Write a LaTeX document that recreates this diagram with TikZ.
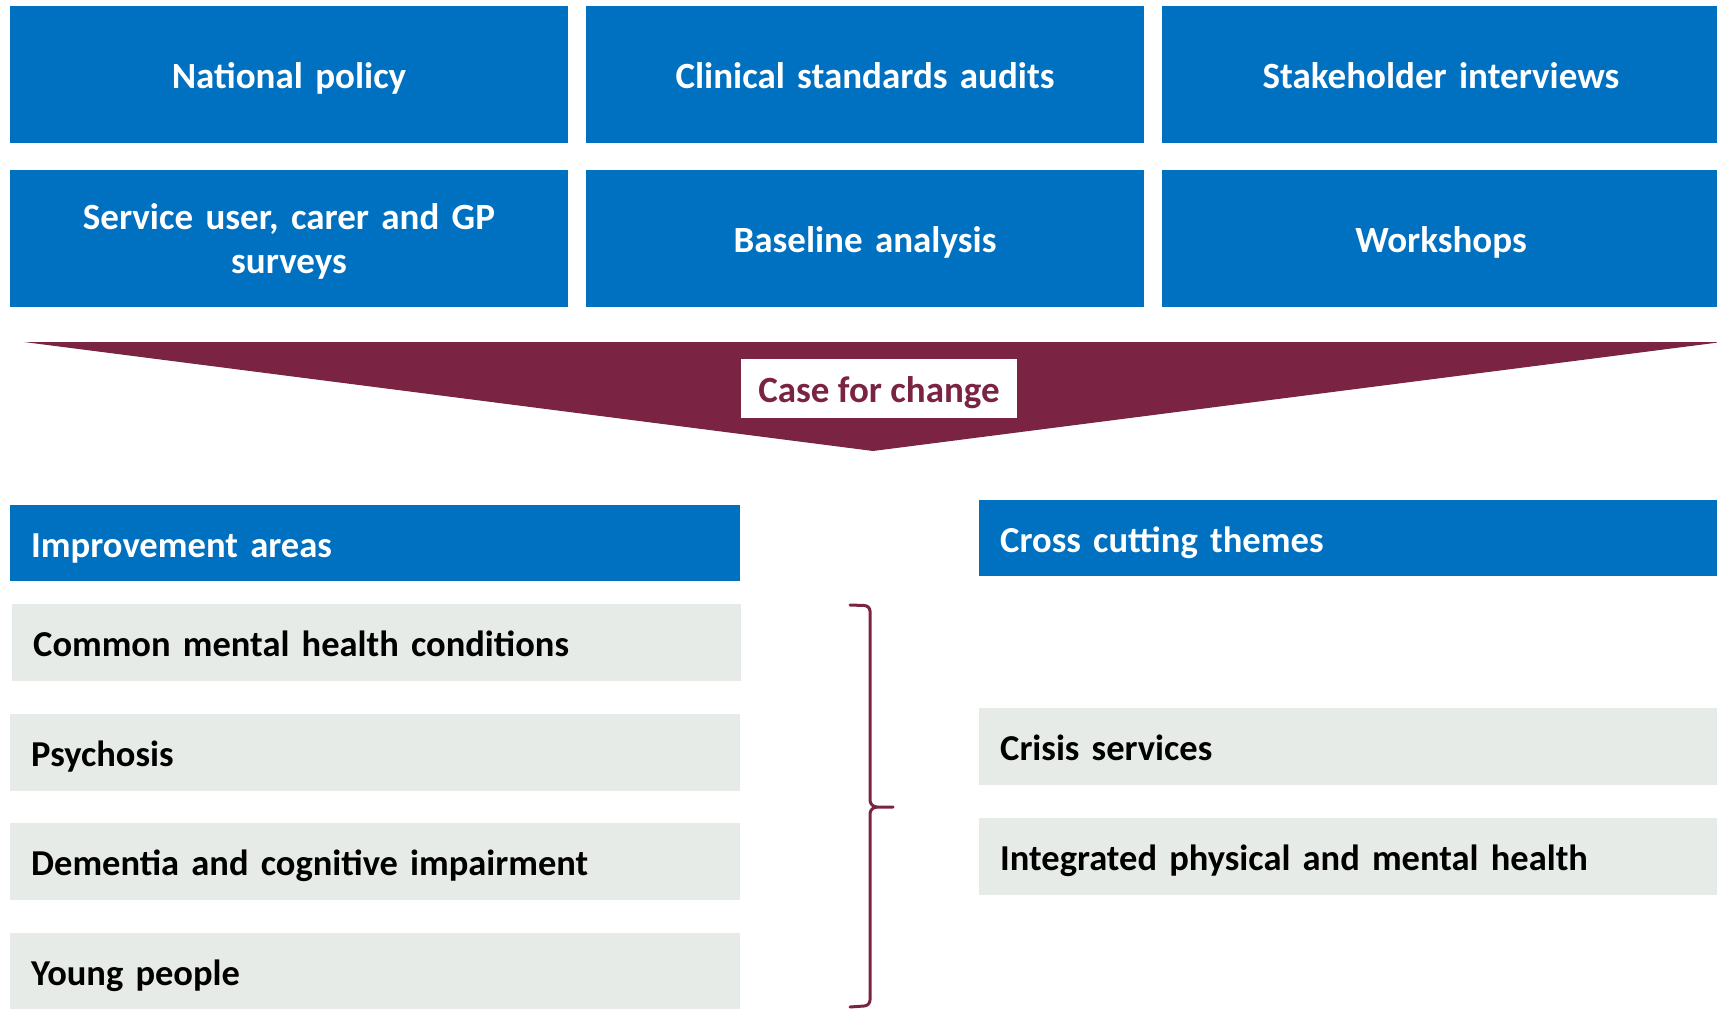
\documentclass[tikz,border=0pt]{standalone}
\usepackage{fontspec}
\setmainfont{Carlito}
\definecolor{srcblue}{HTML}{0070C0}
\definecolor{casered}{HTML}{7A2342}
\definecolor{areagrey}{HTML}{E7EBE8}
\tikzset{
	srcbox/.style={fill=srcblue, text=white, font=\fontsize{37}{44}\selectfont\bfseries, minimum width=558pt, minimum height=137pt, inner sep=0pt, align=center, text width=460pt, text height=32pt, text depth=4pt},
	headbox/.style={fill=srcblue, text=white, font=\fontsize{36.6}{44}\selectfont\bfseries, minimum height=76pt, inner xsep=21pt, inner ysep=0pt, align=left, anchor=north west, text height=32pt, text depth=4pt},
	areabox/.style={fill=areagrey, text=black, font=\fontsize{36.5}{44}\selectfont\bfseries, minimum height=77pt, inner xsep=21pt, inner ysep=0pt, align=left, anchor=north west, text height=32pt, text depth=4pt},
	casebox/.style={fill=white, text=casered, font=\fontsize{37}{44}\selectfont\bfseries, minimum width=276pt, minimum height=59pt, inner sep=0pt, text height=32pt, text depth=4pt},
	bracket/.style={draw=casered, line width=3pt, line cap=round, line join=round}
}
\begin{document}
\begin{tikzpicture}[x=1pt,y=-1pt]
				\useasboundingbox (0,0) rectangle (1717,1009);
				\clip (0,0) rectangle (1717,1009);
				
				\node [srcbox] (policy) at (289,74) {National policy};
				\node [srcbox] (audits) at (865,74) {Clinical standards audits};
				\node [srcbox] (interviews) at (1441,74) {Stakeholder interviews};
				\node [srcbox, text height=30pt, text depth=48pt] (surveys) at (289,238.5) {Service user, carer and GP\\surveys};
				\node [srcbox] (baseline) at (865,238.5) {Baseline analysis};
				\node [srcbox] (workshops) at (1441,238.5) {Workshops};
				
				\fill [casered] (24,342) -- (1722,342) -- (873,451) -- cycle;
				\node [casebox] (case) at (879,388.5) {Case for change};
				
				\node [headbox, text width=688pt] (improve) at (10,505) {Improvement areas};
				\node [areabox, text width=687pt] (common) at (12,604) {Common mental health conditions};
				\node [areabox, text width=688pt] (psychosis) at (10,714) {Psychosis};
				\node [areabox, text width=688pt] (dementia) at (10,823) {Dementia and cognitive impairment};
				\node [areabox, text width=688pt] (young) at (10,933) {Young people};
				
				\node [headbox, text width=700pt] (themes) at (979,500) {Cross cutting themes};
				\node [areabox, text width=700pt] (crisis) at (979,708) {Crisis services};
				\node [areabox, text width=700pt] (integrated) at (979,818) {Integrated physical and mental health};
				
				\draw [bracket] (850,605) -- (864,605.5) to [out=0, in=90] (870,611) -- (870,800) to [out=-90, in=180] (877,807) -- (893,807);
				\draw [bracket] (877,807) to [out=180, in=90] (870,814) -- (870,1000) to [out=-90, in=0] (864,1006) -- (850,1007);
			\end{tikzpicture}
\end{document}
